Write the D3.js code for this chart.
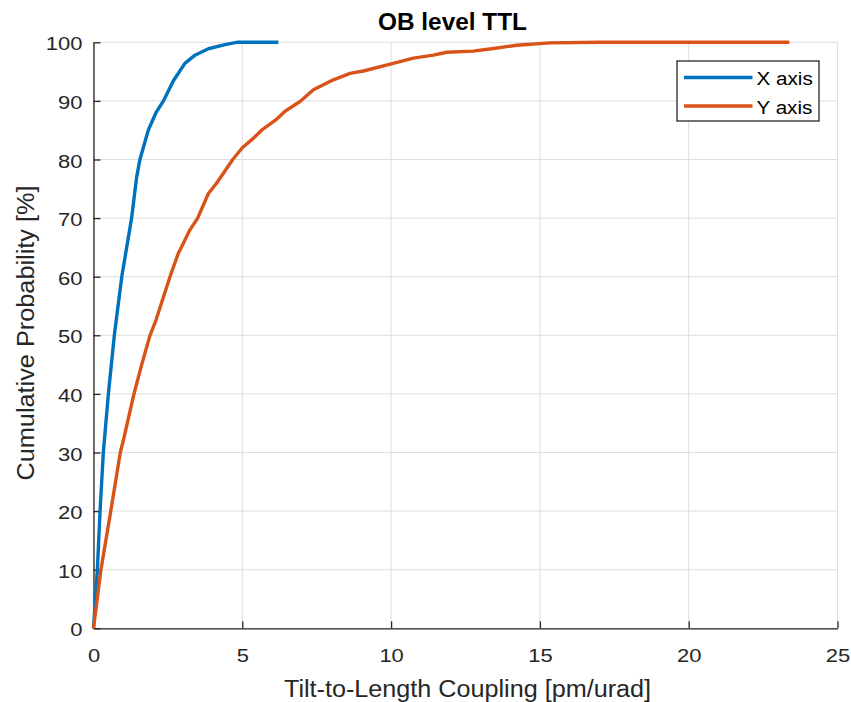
<!DOCTYPE html>
<html>
<head>
<meta charset="utf-8">
<script src="https://cdn.jsdelivr.net/npm/d3@7"></script>
<style>
  html, body { margin: 0; padding: 0; background: #fff; }
  svg { display: block; font-family: "Liberation Sans", Arial, Helvetica, sans-serif; }
</style>
</head>
<body>
<svg id="chart" width="851" height="702"></svg>
<script>
// Empirical cumulative distributions of tilt-to-length coupling
const xAxisTTL  = [0, 0.13, 0.22, 0.33, 0.5, 0.7, 0.95, 1.28, 1.45, 1.56, 1.84, 2.1, 2.35, 2.68, 3.07, 3.41, 3.86, 4.42, 4.81, 6.21];
const xAxisProb = [0, 10, 20, 30, 40, 50, 60, 70, 77, 80, 85, 88, 90, 93.4, 96.4, 97.8, 98.9, 99.6, 100, 100];

const yAxisTTL  = [0, 0.25, 0.58, 0.9, 1.0, 1.36, 1.62, 1.9, 2.1, 2.57, 2.85, 3.0, 3.24, 3.5, 3.86, 4.14, 4.68, 5.0, 5.37, 5.65, 6.16, 6.43, 6.94, 7.39, 8.06, 8.62, 9.07, 10.07, 10.75, 11.42, 11.87, 12.76, 13.44, 14.22, 15.34, 17.0, 20.0, 23.38];
const yAxisProb = [0, 10, 20, 30, 32, 40, 45, 50, 52.6, 60, 64, 65.5, 68, 70, 74.2, 76.0, 80, 82.0, 83.6, 85.0, 86.9, 88.2, 89.9, 91.9, 93.6, 94.7, 95.1, 96.4, 97.3, 97.8, 98.3, 98.5, 98.95, 99.5, 99.9, 100, 100, 100];

const seriesNames  = ["X axis", "Y axis"];
const seriesColors = ["#0072BD", "#D95319"];
const xTicks = [0, 5, 10, 15, 20, 25];
const yTicks = [0, 10, 20, 30, 40, 50, 60, 70, 80, 90, 100];

const series = [
  { name: seriesNames[0], color: seriesColors[0], pts: xAxisTTL.map((v, i) => [v, xAxisProb[i]]) },
  { name: seriesNames[1], color: seriesColors[1], pts: yAxisTTL.map((v, i) => [v, yAxisProb[i]]) }
];

const plot = { left: 93.5, right: 837.5, top: 42.3, bottom: 628.3 };
const svg = d3.select("#chart");
const x = d3.scaleLinear().domain([0, 25]).range([plot.left, plot.right]);
const y = d3.scaleLinear().domain([0, 100]).range([plot.bottom, plot.top]);
const axisColor = "#262626";

// widen glyphs horizontally by a factor, keeping the text as text
function widen(sel, factor) {
  sel.each(function () {
    const w = this.getComputedTextLength();
    d3.select(this).attr("textLength", w * factor).attr("lengthAdjust", "spacingAndGlyphs");
  });
}

// grid
const grid = svg.append("g");
grid.selectAll("line.vx").data(xTicks).join("line")
  .attr("x1", d => x(d)).attr("x2", d => x(d)).attr("y1", plot.top).attr("y2", plot.bottom)
  .attr("stroke", "#dedede").attr("stroke-width", 1);
grid.selectAll("line.hy").data(yTicks).join("line")
  .attr("x1", plot.left).attr("x2", plot.right).attr("y1", d => y(d)).attr("y2", d => y(d))
  .attr("stroke", "#dedede").attr("stroke-width", 1);

// axes with inward ticks
const xAxis = svg.append("g").attr("transform", `translate(0,${plot.bottom})`)
  .call(d3.axisBottom(x).tickValues(xTicks).tickSize(-7).tickPadding(0).tickSizeOuter(0));
const yAxis = svg.append("g").attr("transform", `translate(${plot.left},0)`)
  .call(d3.axisLeft(y).tickValues(yTicks).tickSize(-7).tickPadding(11).tickSizeOuter(0));
[xAxis, yAxis].forEach(a => {
  a.select(".domain").attr("stroke", axisColor).attr("stroke-width", 1.3);
  a.selectAll(".tick line").attr("stroke", axisColor).attr("stroke-width", 1.3);
  a.selectAll(".tick text").attr("fill", axisColor).attr("font-size", 18.8)
    .attr("font-family", "Liberation Sans, Arial, sans-serif");
});
xAxis.selectAll(".tick text").attr("y", 34).attr("dy", null);
yAxis.selectAll(".tick text").attr("dy", "0.40em");
widen(xAxis.selectAll(".tick text"), 1.17);
widen(yAxis.selectAll(".tick text"), 1.17);

// curves
const line = d3.line().x(d => x(d[0])).y(d => y(d[1]));
svg.append("g").selectAll("path").data(series).join("path")
  .attr("d", d => line(d.pts)).attr("fill", "none")
  .attr("stroke", d => d.color).attr("stroke-width", 3.4)
  .attr("stroke-linejoin", "round");

// title and labels
const title = svg.append("text").attr("x", 452.5).attr("y", 30)
  .attr("text-anchor", "middle").attr("font-size", 23).attr("font-weight", "bold")
  .attr("fill", "#000").text("OB level TTL");
title.attr("textLength", 149).attr("lengthAdjust", "spacingAndGlyphs");

svg.append("text").attr("x", 467.5).attr("y", 696.5)
  .attr("text-anchor", "middle").attr("font-size", 23.5).attr("fill", axisColor)
  .attr("textLength", 367).attr("lengthAdjust", "spacingAndGlyphs")
  .text("Tilt-to-Length Coupling [pm/urad]");
svg.append("text").attr("transform", "translate(34,333) rotate(-90)")
  .attr("text-anchor", "middle").attr("font-size", 23.5).attr("fill", axisColor)
  .attr("textLength", 295).attr("lengthAdjust", "spacingAndGlyphs")
  .text("Cumulative Probability [%]");

// legend
const lg = svg.append("g").attr("transform", "translate(677,61)");
lg.append("rect").attr("width", 142).attr("height", 60)
  .attr("fill", "#fff").attr("stroke", axisColor).attr("stroke-width", 1.3);
const items = lg.selectAll("g.item").data(series).join("g")
  .attr("transform", (d, i) => `translate(0,${16.5 + i * 28.5})`);
items.append("line").attr("x1", 7).attr("x2", 75.5).attr("y1", 0).attr("y2", 0)
  .attr("stroke", d => d.color).attr("stroke-width", 3.4);
const legendText = items.append("text").attr("x", 79.5).attr("y", 7.5).attr("font-size", 17.5)
  .attr("fill", "#000").text(d => d.name);
widen(legendText, 1.18);
</script>
</body>
</html>
